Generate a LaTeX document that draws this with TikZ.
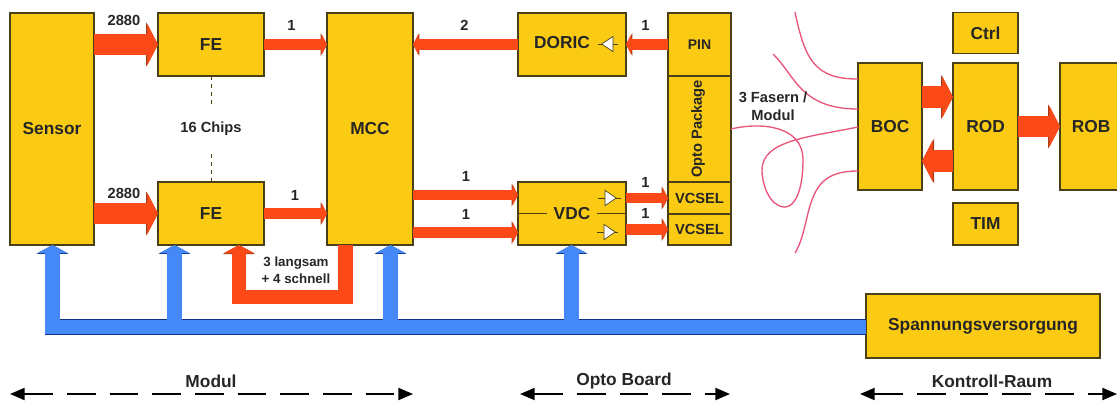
\documentclass[tikz,border=0pt]{standalone}
\usepackage{fontspec}
\setmainfont{Liberation Sans}
\usetikzlibrary{arrows.meta,shapes.geometric}
\definecolor{boxfill}{HTML}{FBCB14}
\definecolor{boxedge}{HTML}{4A4018}
\definecolor{flowred}{HTML}{FB4A18}
\definecolor{flowedge}{HTML}{A8401C}
\definecolor{busblue}{HTML}{4588F8}
\definecolor{busedge}{HTML}{12308A}
\definecolor{fibrepink}{HTML}{E8557A}
\tikzset{
  every node/.append style={inner sep=0pt,outer sep=0pt,font=\bfseries\fontsize{13}{15}\selectfont,text=black!85},
  box/.style 2 args={draw=boxedge,fill=boxfill,line width=0.8pt,minimum width=#1*0.75pt,minimum height=#2*0.75pt},
  small/.style={font=\bfseries\fontsize{11}{13}\selectfont},
  tiny/.style={font=\bfseries\fontsize{10}{12}\selectfont},
  flowfat/.style={draw=flowred,line width=16pt,
    preaction={draw=flowred,-{Triangle[width=33pt,length=9pt,fill=flowedge,color=flowedge]}},
    -{Triangle[width=31pt,length=8pt,fill=flowred,color=flowred]}},
  flowwide/.style={draw=flowred,line width=11.2pt,
    preaction={draw=flowred,-{Triangle[width=24pt,length=6.8pt,fill=flowedge,color=flowedge]}},
    -{Triangle[width=22.5pt,length=6pt,fill=flowred,color=flowred]}},
  flowthin/.style={draw=flowred,line width=8pt,
    preaction={draw=flowred,-{Triangle[width=17pt,length=4.8pt,fill=flowedge,color=flowedge]}},
    -{Triangle[width=15.8pt,length=4pt,fill=flowred,color=flowred]}},
  buscore/.style={draw=busblue,line width=10.6pt,-{Triangle[width=22pt,length=6pt,fill=busblue,color=busblue]}},
  busline/.style={draw=busedge,line width=11.8pt,-{Triangle[width=23.4pt,length=6.6pt,fill=busedge,color=busedge]}},
  span/.style={draw=black,line width=1.5pt,dash pattern=on 21.5pt off 10.5pt,{Triangle[width=9pt,length=11pt]}-{Triangle[width=9pt,length=11pt]}},
  lead/.style={draw=boxedge,line width=0.7pt},
  amp/.style={isosceles triangle,isosceles triangle stretches,draw=boxedge,fill=white,line width=0.5pt,minimum height=8.5pt,minimum width=11.5pt},
  fibre/.style={draw=fibrepink,line width=1pt},
}
\begin{document}
\begin{tikzpicture}[x=0.75pt,y=0.75pt]
\clip (0,0) rectangle (1117,-401);
% Modul
\node[box={84}{232}] (sensor) at (52,-129) {Sensor};
\node[box={106}{63}] (fetop) at (211,-44.5) {FE};
\node[box={106}{63}] (febot) at (211,-213.5) {FE};
\node[box={86}{232}] (mcc) at (370,-129) {MCC};
\node[small] (chips) at (211,-128.5) {16 Chips};
% Opto Board
\node[box={108}{63}] (doric) at (572,-44.5) {};
\node (doriclabel) at (562,-43) {DORIC};
\node[box={108}{63}] (vdc) at (572,-213.5) {};
\node[fill=boxfill,minimum width=50*0.75pt] (vdclabel) at (572,-213.5) {VDC};
\node[box={63}{63},small] (pin) at (699.5,-44.5) {\fontsize{10.5}{12}\selectfont PIN};
\node[box={63}{106}] (optopack) at (699.5,-129) {};
\node[small,rotate=90] (optolabel) at (698,-129) {Opto Package};
\node[box={63}{32},small] (vcseltop) at (699.5,-198) {VCSEL};
\node[box={63}{31},small] (vcselbot) at (699.5,-229.5) {VCSEL};
\draw[lead] (vdc.west |- vdclabel) -- (vdclabel.west);
\draw[lead] (vdclabel.east) -- (vdc.east |- vdclabel);
% Treiber
\node[amp,shape border rotate=180] (ampdoric) at (609,-44) {};
\draw[lead] (598,-44) -- (ampdoric.apex);
\draw[lead] (ampdoric.lower side) -- (618,-44);
\node[amp] (ampvdctop) at (609,-198) {};
\draw[lead] (598,-198) -- (ampvdctop.lower side);
\draw[lead] (ampvdctop.apex) -- (621,-198);
\node[amp] (ampvdcbot) at (608,-232) {};
\draw[lead] (597,-232) -- (ampvdcbot.lower side);
\draw[lead] (ampvdcbot.apex) -- (618,-232);
% Kontroll-Raum
\node[box={64}{127}] (boc) at (890,-126.5) {BOC};
\node[box={65}{127}] (rod) at (985.5,-126.5) {ROD};
\node[box={80}{127},anchor=west] (rob) at (1060,-126.5) {};
\node (roblabel) at (1091,-126.5) {ROB};
\node[box={65}{41}] (ctrl) at (985.5,-33) {Ctrl};
\node[box={65}{42}] (tim) at (985.5,-224) {TIM};
\node[box={234}{64}] (supply) at (983,-326) {Spannungsversorgung};
% Daten
\draw[flowfat] (sensor.east |- fetop) -- (fetop.west);
\draw[flowfat] (sensor.east |- febot) -- (febot.west);
\draw[flowthin] (fetop.east) -- (mcc.west |- fetop);
\draw[flowthin] (febot.east) -- (mcc.west |- febot);
\draw[flowthin] (doric.west) -- (mcc.east |- doric);
\draw[flowthin] (pin.west) -- (doric.east);
\draw[flowthin] (mcc.east |- 0,-195) -- (vdc.west |- 0,-195);
\draw[flowthin] (mcc.east |- 0,-232.5) -- (vdc.west |- 0,-232.5);
\draw[flowthin] (vdc.east |- vcseltop) -- (vcseltop.west);
\draw[flowthin] (vdc.east |- vcselbot) -- (vcselbot.west);
\draw[flowfat] (boc.east |- 0,-97) -- (rod.west |- 0,-97);
\draw[flowfat] (rod.west |- 0,-161) -- (boc.east |- 0,-161);
\draw[flowfat] (rod.east |- rob) -- (rob.west);
\coordinate (slowstart) at (345.5,-245);
\coordinate (slowend) at (239,-245);
\draw[flowwide] (slowstart) |- (239,-297) -- (slowend);
\draw[dashed,boxedge,line width=0.7pt] (fetop.south) -- (211,-108);
\draw[dashed,boxedge,line width=0.7pt] (febot.north) -- (211,-153);
% Versorgung
\coordinate (buscorner) at (45,-327);
\coordinate (bussensor) at (52.5,-327);
\coordinate (busfe) at (174.5,-327);
\coordinate (busmcc) at (390.5,-327);
\coordinate (busvdc) at (571.5,-327);
\foreach \busstart/\busbox in {bussensor/sensor,busfe/febot,busmcc/mcc,busvdc/vdc}
  \draw[busline] (\busstart) -- (\busstart |- \busbox.south);
\draw[busline,-] (buscorner) -- (supply.west |- bussensor);
\foreach \busstart/\busbox in {bussensor/sensor,busfe/febot,busmcc/mcc,busvdc/vdc}
  \draw[buscore] (\busstart) -- (\busstart |- \busbox.south);
\draw[buscore,-] (buscorner) -- (supply.west |- bussensor);
% Fasern
\coordinate (fibreone) at (858,-79);
\coordinate (fibretwo) at (858,-109);
\coordinate (fibrethree) at (858,-127);
\coordinate (fibrefour) at (858,-171);
\draw[fibre] (795,-12) .. controls (805,-60) and (815,-79) .. (fibreone);
\draw[fibre] (773,-54) .. controls (795,-75) and (800,-109) .. (fibretwo);
\draw[fibre] (optopack.east |- 0,-129) .. controls (760,-122) and (803,-125) .. (803,-160)
  .. controls (803,-190) and (795,-207) .. (785,-207)
  .. controls (770,-207) and (762,-185) .. (762,-170)
  .. controls (762,-140) and (810,-137) .. (fibrethree);
\draw[fibre] (fibrefour) .. controls (825,-171) and (815,-185) .. (808,-213)
  .. controls (803,-235) and (800,-245) .. (795,-253);
% Beschriftung
\node[small] (ratetop) at (124,-20) {2880};
\node[small] (ratebot) at (124,-193) {2880};
\node[small] (linkfetop) at (291.5,-25) {1};
\node[small] (linkfebot) at (295,-195) {1};
\node[small] (linkdoric) at (464.5,-25) {2};
\node[small] (linkpin) at (645.5,-25) {1};
\node[small] (linkvdctop) at (466,-176) {1};
\node[small] (linkvdcbot) at (466,-214) {1};
\node[small] (linkvcseltop) at (645.5,-182) {1};
\node[small] (linkvcselbot) at (645.5,-213) {1};
\node[tiny] (slowlabel) at (296,-263.5) {3 langsam};
\node[tiny] (fastlabel) at (296,-279) {+ 4 schnell};
\node[small] (fibrelabel) at (773,-97) {3 Fasern /};
\node[small] (fibremodul) at (773,-115) {Modul};
% Bereiche
\coordinate (modulleft) at (10,-394);
\coordinate (modulright) at (413,-394);
\coordinate (optoleft) at (520,-394);
\coordinate (optoright) at (730,-394);
\coordinate (roomleft) at (860,-394);
\coordinate (roomright) at (1117,-394);
\draw[span] (modulleft) -- (modulright);
\draw[span] (optoleft) -- (optoright);
\draw[span] (roomleft) -- (roomright);
\node (modullabel) at (211,-381) {Modul};
\node (optolabelb) at (624,-381) {Opto Board};
\node (roomlabel) at (992,-381) {Kontroll-Raum};
\end{tikzpicture}
\end{document}
